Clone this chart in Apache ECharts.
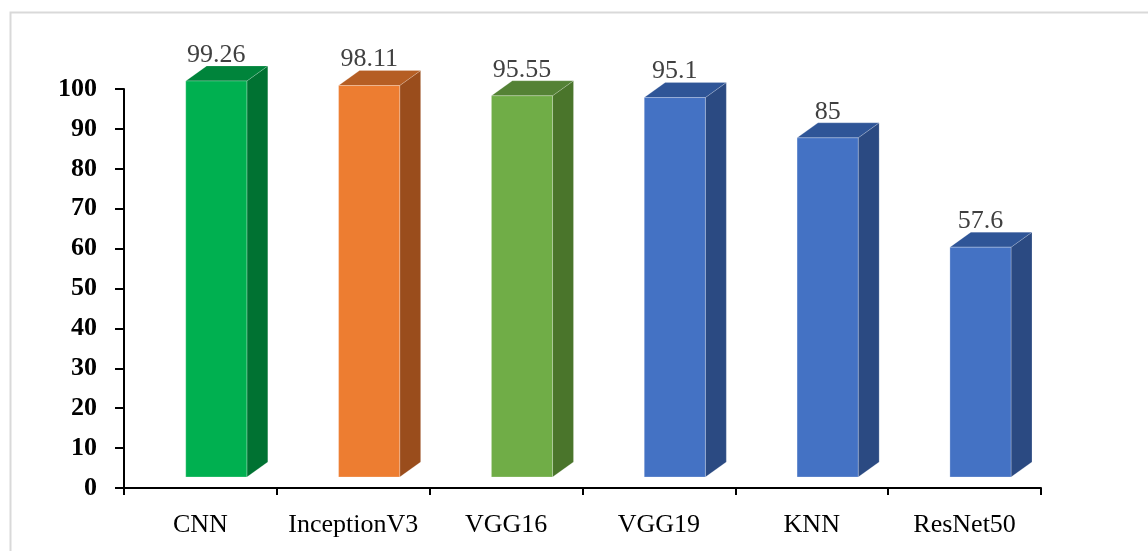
<!DOCTYPE html>
<html>
<head>
<meta charset="utf-8">
<script src="https://cdn.jsdelivr.net/npm/echarts@6/dist/echarts.min.js"></script>
<style>
  html, body { margin: 0; padding: 0; background: #ffffff; }
  #chart { width: 1148px; height: 551px; }
</style>
</head>
<body>
<div id="chart"></div>
<script>
// Accuracy (%) of each model
const models = ['CNN', 'InceptionV3', 'VGG16', 'VGG19', 'KNN', 'ResNet50'];
const accuracy = [99.26, 98.11, 95.55, 95.1, 85, 57.6];
const yTicks = [0, 10, 20, 30, 40, 50, 60, 70, 80, 90, 100];

// Face shades per bar: front, top, side
const frontColors = ['#00B050', '#ED7D31', '#70AD47', '#4472C4', '#4472C4', '#4472C4'];
const topColors   = ['#00843B', '#B55E24', '#548235', '#2F5597', '#2F5597', '#2F5597'];
const sideColors  = ['#007232', '#9A4D1C', '#4A752B', '#2B4A82', '#2B4A82', '#2B4A82'];

const serif = '"Liberation Serif", "DejaVu Serif", serif';

const chart = echarts.init(document.getElementById('chart'), null, { renderer: 'canvas' });

function renderBox(params, api) {
  const i = api.value(0);
  const v = api.value(1);
  const base = api.coord([i, 0]);
  const topPt = api.coord([i, v]);
  const band = api.size([1, 0])[0];
  const lift = 11;               // floor of the 3D box sits above the axis line
  const dx = band * 0.137;       // depth offset, right
  const dy = 15;                 // depth offset, up
  const fw = band * 0.4;
  const fl = base[0] - band * 0.096;
  const fr = fl + fw;
  const fb = base[1] - lift;
  const ft = topPt[1] - lift;
  const idx = params.dataIndex;
  return {
    type: 'group',
    children: [
      {
        type: 'polygon',
        shape: { points: [[fr, ft], [fr + dx, ft - dy], [fr + dx, fb - dy], [fr, fb]] },
        style: { fill: sideColors[idx], stroke: 'rgba(255,255,255,0.18)', lineWidth: 1 }
      },
      {
        type: 'polygon',
        shape: { points: [[fl, ft], [fl + dx, ft - dy], [fr + dx, ft - dy], [fr, ft]] },
        style: { fill: topColors[idx], stroke: 'rgba(255,255,255,0.18)', lineWidth: 1 }
      },
      {
        type: 'rect',
        shape: { x: fl, y: ft, width: fw, height: fb - ft },
        style: { fill: frontColors[idx], stroke: 'rgba(255,255,255,0.25)', lineWidth: 1 }
      },
      {
        type: 'text',
        x: fl + fw / 2,
        y: ft - dy + 2,
        style: {
          text: String(v),
          fill: '#404040',
          font: '26px ' + serif,
          align: 'center',
          verticalAlign: 'bottom'
        }
      }
    ]
  };
}

const option = {
  backgroundColor: '#ffffff',
  animation: false,
  graphic: [{
    type: 'rect',
    left: 8, top: 10,
    shape: { width: 1200, height: 600 },
    style: { fill: 'none', stroke: '#D9D9D9', lineWidth: 2 },
    silent: true
  }],
  grid: { left: 124, right: 107, top: 89, bottom: 63 },
  xAxis: {
    type: 'category',
    data: models,
    boundaryGap: true,
    axisLine: { show: true, lineStyle: { color: '#000', width: 2 } },
    axisTick: { show: true, length: 7, lineStyle: { color: '#000', width: 2 } },
    axisLabel: { color: '#000', fontFamily: serif, fontSize: 26, margin: 24, interval: 0 },
    splitLine: { show: false }
  },
  yAxis: {
    type: 'value',
    min: yTicks[0],
    max: yTicks[yTicks.length - 1],
    interval: yTicks[1] - yTicks[0],
    axisLine: { show: true, lineStyle: { color: '#000', width: 2 } },
    axisTick: { show: true, length: 9, lineStyle: { color: '#000', width: 2 } },
    axisLabel: { color: '#000', fontFamily: serif, fontSize: 26, fontWeight: 'bold', margin: 27 },
    splitLine: { show: false }
  },
  series: [{
    type: 'custom',
    renderItem: renderBox,
    clip: false,
    encode: { x: 0, y: 1 },
    data: accuracy.map((v, i) => [i, v])
  }]
};

chart.setOption(option);
</script>
</body>
</html>
